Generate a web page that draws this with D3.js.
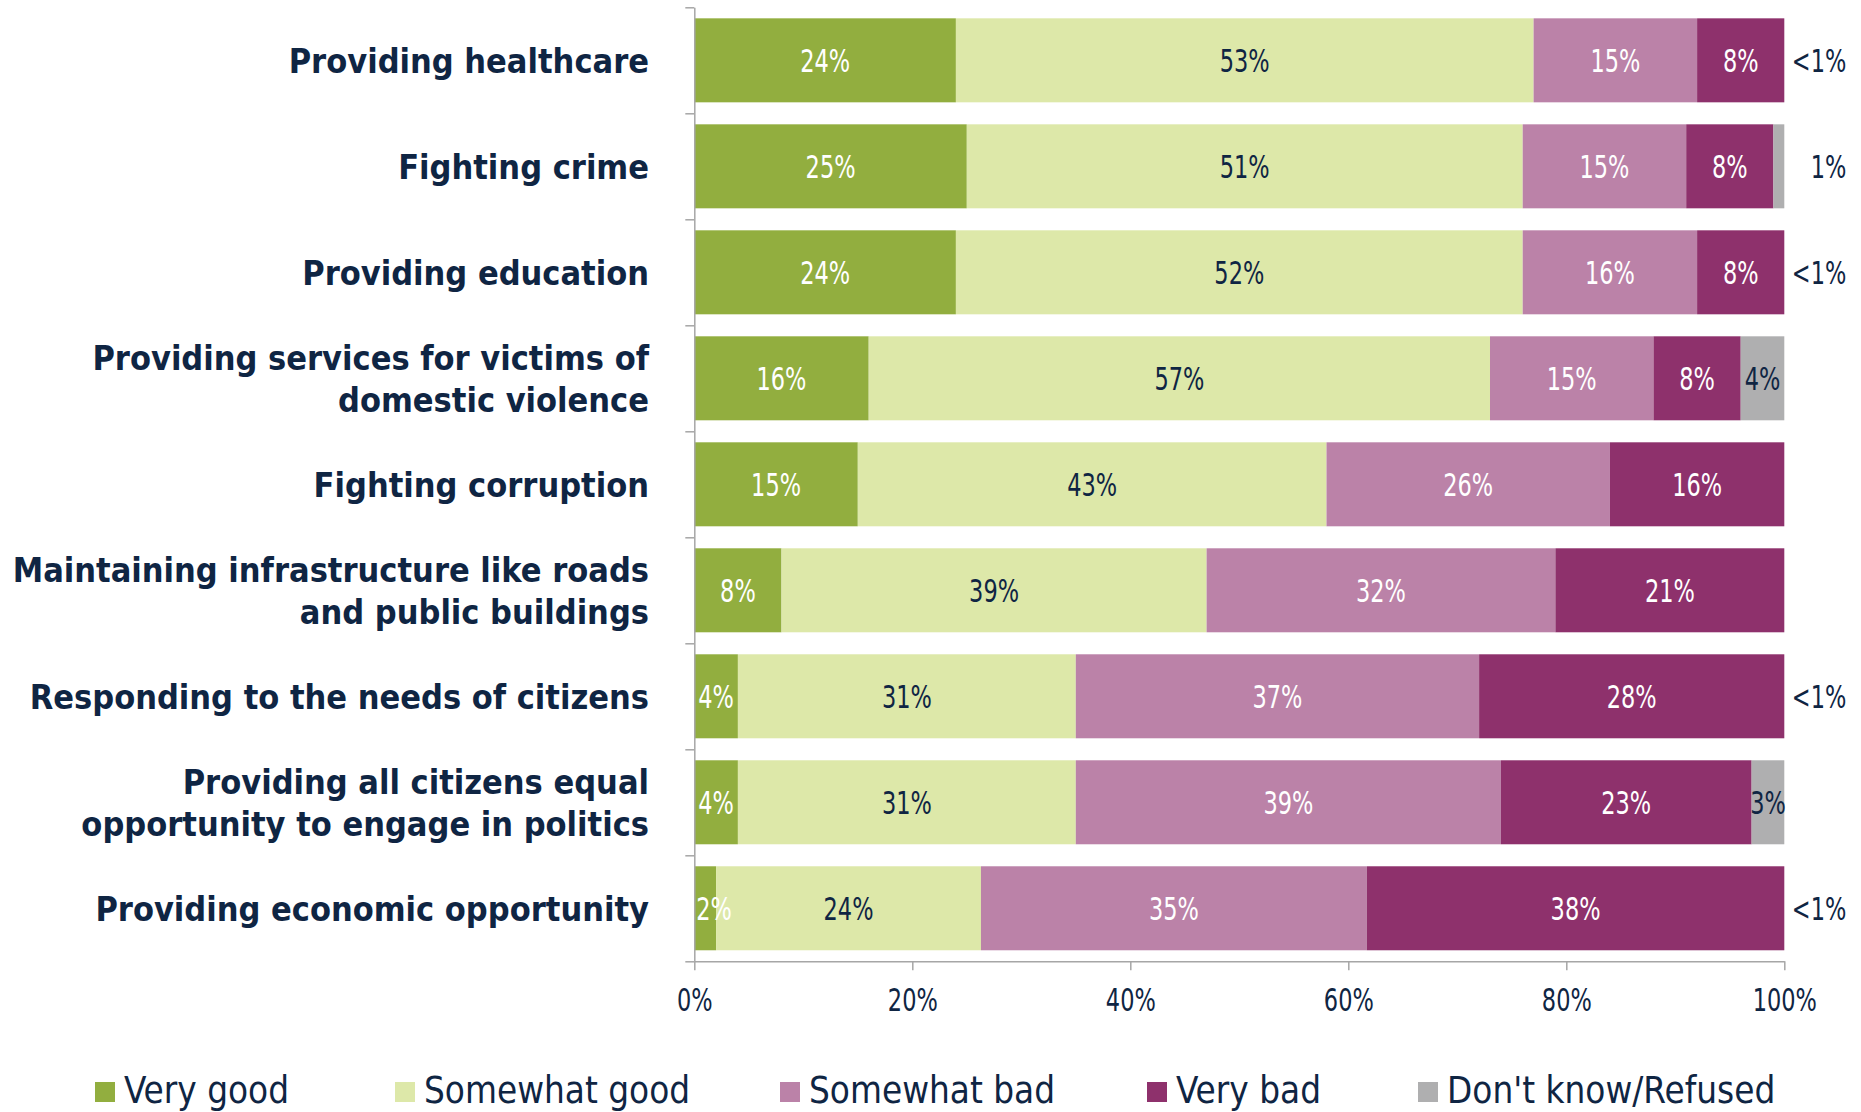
<!DOCTYPE html>
<html>
<head>
<meta charset="utf-8">
<script src="https://cdn.jsdelivr.net/npm/d3@7"></script>
<style>
  html, body { margin: 0; padding: 0; background: #ffffff; }
  svg { display: block; }
</style>
</head>
<body>
<svg id="chart" width="1861" height="1112"></svg>
<script>
// ---------------- data ----------------
const categories = [
  "Providing healthcare",
  "Fighting crime",
  "Providing education",
  "Providing services for victims of\ndomestic violence",
  "Fighting corruption",
  "Maintaining infrastructure like roads\nand public buildings",
  "Responding to the needs of citizens",
  "Providing all citizens equal\nopportunity to engage in politics",
  "Providing economic opportunity"
];
const seriesNames = ["Very good", "Somewhat good", "Somewhat bad", "Very bad", "Don't know/Refused"];
const veryGood     = [24, 25, 24, 16, 15, 8, 4, 4, 2];
const somewhatGood = [53, 51, 52, 57, 43, 39, 31, 31, 24.3];
const somewhatBad  = [15, 15, 16, 15, 26, 32, 37, 39, 35.4];
const veryBad      = [8, 8, 8, 8, 16, 21, 28, 23, 38.3];
const dontKnow     = [0, 1, 0, 4, 0, 0, 0, 3, 0];
const outsideLabels = ["<1%", "1%", "<1%", "", "", "", "<1%", "", "<1%"];
const xTicks = [0, 20, 40, 60, 80, 100];

// ---------------- style ----------------
const colors = ["#92AE3F", "#DDE8A9", "#BB82A8", "#8E316C", "#AFAFB0"];
const navy = "#0F2543";
const labelColors = ["#ffffff", navy, "#ffffff", "#ffffff", navy];
const numFont = "'DejaVu Sans Condensed', 'DejaVu Sans', sans-serif";
const txtFont = "'DejaVu Sans Condensed', 'DejaVu Sans', sans-serif";
const numSize = 32;
const narrow = 0.78;

const svg = d3.select("#chart");
const x0 = 694.3, x1 = 1784.3, yTop = 7.3, yBot = 961.3;

const x = d3.scaleLinear().domain([0, 100]).range([x0, x1]);
const y = d3.scaleBand().domain(categories).range([yTop, yBot])
  .paddingInner(0.2075).paddingOuter(0.104);
const yEdge = d3.scaleLinear().domain([0, categories.length]).range([yTop, yBot]);

const seriesValues = [veryGood, somewhatGood, somewhatBad, veryBad, dontKnow];
const rows = categories.map((c, i) => {
  const r = { cat: c };
  seriesNames.forEach((s, k) => r[s] = seriesValues[k][i]);
  return r;
});
const stacked = d3.stack().keys(seriesNames)(rows);

// narrow number text, placed by a transform around its anchor point
function numText(parent, px, py, str, fill, anchor) {
  const g = parent.append("g").attr("transform", `translate(${px},${py}) scale(${narrow},1)`);
  const t = g.append("text").attr("x", 0).attr("y", 0)
    .attr("text-anchor", anchor).attr("fill", fill)
    .style("font-family", numFont).style("font-size", numSize + "px")
    .text(str);
  return { g, t, w: t.node().getComputedTextLength() * narrow };
}

// ---------------- bars ----------------
const gBars = svg.append("g");
stacked.forEach((layer, k) => {
  gBars.append("g").attr("fill", colors[k])
    .selectAll("rect").data(layer).join("rect")
    .attr("x", d => x(d[0]))
    .attr("y", d => y(d.data.cat))
    .attr("width", d => Math.max(0, x(d[1]) - x(d[0])))
    .attr("height", y.bandwidth());
});

// ---------------- axes ----------------
const axisColor = "#A6A6A6";
const gy = svg.append("g").attr("transform", `translate(${x0},0)`)
  .call(d3.axisLeft(yEdge).tickValues(d3.range(categories.length + 1)).tickSize(9).tickSizeOuter(0).tickFormat(""));
const gx = svg.append("g").attr("transform", `translate(0,${yBot})`)
  .call(d3.axisBottom(x).tickValues(xTicks).tickSize(9).tickSizeOuter(0).tickFormat(d => d + "%"));
[gy, gx].forEach(g => {
  g.selectAll("path.domain").attr("stroke", axisColor).attr("stroke-width", 1.5);
  g.selectAll(".tick line").attr("stroke", axisColor).attr("stroke-width", 1.5);
});
gx.selectAll(".tick text")
  .attr("y", 0).attr("dy", null)
  .attr("transform", `translate(0,50) scale(${narrow},1)`)
  .attr("fill", navy)
  .style("font-family", numFont).style("font-size", numSize + "px");

// ---------------- value labels ----------------
const gLab = svg.append("g");
stacked.forEach((layer, k) => {
  layer.forEach(d => {
    const v = d[1] - d[0];
    if (v < 1.5) return;
    const cy = y(d.data.cat) + y.bandwidth() / 2 + numSize * 0.37;
    const lab = numText(gLab, 0, cy, Math.round(v) + "%", labelColors[k], "middle");
    const cx = Math.max((x(d[0]) + x(d[1])) / 2, x0 + lab.w / 2 + 2);
    lab.g.attr("transform", `translate(${cx},${cy}) scale(${narrow},1)`);
  });
});
// outside labels (tiny don't-know shares)
categories.forEach((c, i) => {
  if (!outsideLabels[i]) return;
  numText(gLab, x(100) + 62, y(c) + y.bandwidth() / 2 + numSize * 0.37, outsideLabels[i], navy, "end");
});

// ---------------- category labels ----------------
const gCat = svg.append("g")
  .style("font-family", txtFont).style("font-size", "34px").style("font-weight", "bold")
  .attr("fill", navy).attr("text-anchor", "end");
categories.forEach(c => {
  const lines = c.split("\n");
  const cy = y(c) + y.bandwidth() / 2;
  const lh = 42;
  lines.forEach((ln, j) => {
    gCat.append("text")
      .attr("x", 649)
      .attr("y", cy + (j - (lines.length - 1) / 2) * lh + 12.5)
      .text(ln);
  });
});

// ---------------- legend ----------------
const legendX = [95, 395, 780, 1147, 1418];
const gLeg = svg.append("g").style("font-family", txtFont).style("font-size", "36.5px").attr("fill", navy);
seriesNames.forEach((s, k) => {
  const g = gLeg.append("g").attr("transform", `translate(${legendX[k]},0)`);
  g.append("rect").attr("x", 0).attr("y", 1082).attr("width", 20).attr("height", 20).attr("fill", colors[k]);
  g.append("text").attr("x", 29).attr("y", 1103.3).text(s);
});
</script>
</body>
</html>
